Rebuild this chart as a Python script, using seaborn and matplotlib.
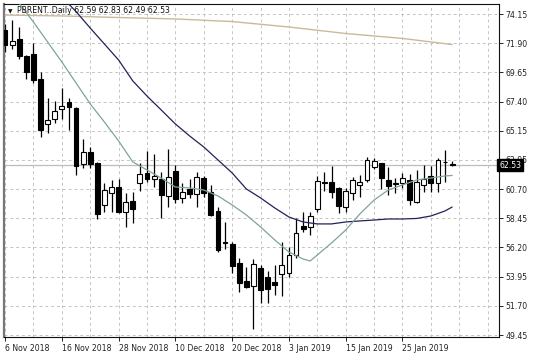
import numpy as np
import matplotlib
matplotlib.use("Agg")
import matplotlib.pyplot as plt
import matplotlib.transforms as mtransforms
from matplotlib.ticker import FixedLocator
import seaborn as sns

# ---------------- data ----------------
title_text = "PBRENT..Daily 62.59 62.83 62.49 62.53"
last_price = 62.53

opens = [72.92, 71.77, 72.23, 70.92, 71.07, 69.15, 65.69, 66.07, 66.84, 67.38,
         66.92, 62.61, 63.53, 62.69, 59.46, 60.38, 60.84, 58.92, 59.77, 61.15,
         61.92, 61.46, 61.46, 60.15, 62.07, 60.00, 60.69, 60.30, 61.53, 60.46,
         59.00, 56.61, 56.46, 55.00, 53.61, 53.23, 54.61, 53.92, 53.53, 54.15,
         54.23, 55.61, 57.84, 57.77, 59.15, 61.23, 61.23, 60.77, 59.30, 60.38,
         61.00, 61.38, 62.38, 62.69, 61.38, 61.07, 61.15, 61.38, 59.69, 61.00,
         61.69, 61.15, 62.75, 62.59]
highs = [73.38, 73.69, 73.15, 71.00, 71.92, 69.69, 67.69, 67.46, 68.46, 67.69,
         67.00, 64.53, 63.92, 62.77, 61.15, 61.38, 61.46, 60.38, 60.46, 62.69,
         63.61, 63.38, 62.00, 63.77, 62.53, 61.15, 61.46, 62.00, 61.69, 61.00,
         59.30, 58.15, 56.61, 55.38, 54.69, 55.30, 54.84, 54.38, 54.84, 56.61,
         56.23, 58.46, 58.92, 58.92, 61.69, 62.00, 62.46, 60.84, 60.77, 61.61,
         61.77, 63.15, 63.07, 62.69, 62.38, 61.53, 61.92, 61.84, 62.15, 62.53,
         62.46, 63.07, 63.69, 62.83]
lows = [71.23, 71.46, 70.69, 69.15, 68.84, 64.69, 65.00, 65.77, 66.07, 65.23,
        61.77, 62.30, 62.30, 58.38, 58.92, 58.92, 58.84, 57.77, 58.07, 60.54,
        61.23, 60.84, 58.46, 59.30, 59.61, 59.61, 60.00, 59.30, 60.07, 58.61,
        55.84, 56.07, 54.23, 52.77, 53.07, 49.92, 51.92, 51.92, 52.53, 52.46,
        53.92, 55.38, 57.38, 57.15, 58.92, 60.54, 60.00, 58.84, 58.92, 59.84,
        60.07, 61.23, 62.23, 60.69, 60.23, 60.38, 60.77, 59.46, 59.61, 60.46,
        60.46, 60.46, 61.23, 62.49]
closes = [71.77, 72.07, 70.92, 69.69, 69.07, 65.23, 66.00, 66.69, 67.07, 67.00,
          62.46, 63.53, 62.61, 58.77, 60.61, 60.84, 58.92, 59.69, 59.15, 61.84,
          61.46, 61.69, 60.23, 61.61, 59.92, 60.46, 60.30, 61.61, 60.38, 58.69,
          56.00, 56.53, 54.77, 53.46, 53.15, 54.92, 52.92, 53.00, 53.30, 54.84,
          55.61, 57.30, 57.61, 58.61, 61.30, 61.15, 60.46, 59.38, 60.54, 61.38,
          61.23, 62.92, 62.84, 61.53, 60.92, 61.15, 61.53, 59.84, 61.23, 61.46,
          61.15, 62.92, 62.79, 62.53]

date_labels = ["6 Nov 2018", "16 Nov 2018", "28 Nov 2018", "10 Dec 2018",
               "20 Dec 2018", "3 Jan 2019", "15 Jan 2019", "25 Jan 2019"]
bars_per_label = 8
price_labels = ["49.45", "51.70", "53.95", "56.20", "58.45", "60.70",
                "62.95", "65.15", "67.40", "69.65", "71.90", "74.15"]

# moving averages (bar index, value)
ma_slow_idx = [0, 8, 16, 24, 32, 40, 48, 56, 63]
ma_slow_val = [74.07, 74.00, 73.88, 73.77, 73.57, 73.15, 72.65, 72.27, 71.80]

ma_mid_idx = [8, 10, 12, 14, 16, 18, 20, 22, 24, 26, 28, 30, 32, 34, 36, 38,
              40, 42, 44, 46, 48, 50, 52, 54, 56, 58, 60, 62, 63]
ma_mid_val = [75.46, 74.34, 73.07, 71.84, 70.61, 69.00, 67.84, 66.77, 65.69,
              64.77, 63.92, 62.92, 61.92, 60.69, 60.00, 59.23, 58.53, 58.15,
              58.00, 58.00, 58.15, 58.23, 58.30, 58.38, 58.38, 58.42, 58.61,
              59.00, 59.30]

ma_fast_idx = [1, 4, 8, 12, 14, 16, 18, 20, 22, 24, 26, 28, 30, 32, 34, 36, 38,
               40, 42, 43, 44, 46, 48, 50, 52, 54, 56, 58, 60, 62, 63]
ma_fast_val = [75.69, 73.53, 70.46, 67.23, 65.84, 64.38, 62.77, 62.15, 61.53,
               60.84, 60.77, 60.61, 60.15, 59.46, 58.69, 57.77, 56.77, 55.84,
               55.30, 55.15, 55.61, 56.53, 57.53, 58.77, 59.84, 60.61, 61.00,
               61.38, 61.53, 61.69, 61.73]

# ---------------- style ----------------
sns.set_theme(style="white")
plt.rcParams['font.family'] = ['DejaVu Sans']
plt.rcParams['axes.linewidth'] = 0.8

W, H = 536, 358
fig = plt.figure(figsize=(W / 100, H / 100), dpi=100)
fig.patch.set_facecolor("white")
ax = fig.add_axes([4 / W, 21 / H, 495 / W, 333 / H])
ax.set_facecolor("white")

n = len(opens)
x = np.arange(n)
o = np.array(opens); h = np.array(highs); l = np.array(lows); c = np.array(closes)

ax.set_xlim(-0.15, 69.6)
ax.set_ylim(49.30, 74.92)

# grid
ytick_pos = np.linspace(float(price_labels[0]), float(price_labels[-1]), len(price_labels))
ax.yaxis.set_major_locator(FixedLocator(ytick_pos))
ax.set_yticklabels(price_labels)
xmaj = np.arange(len(date_labels)) * bars_per_label
ax.xaxis.set_major_locator(FixedLocator(xmaj))
ax.xaxis.set_minor_locator(FixedLocator(np.arange(0, 70, bars_per_label // 2)))
ax.set_xticklabels(date_labels)
ax.grid(True, which="both", axis="x", color="#c4c4c4", linestyle=(0, (3, 3)), linewidth=0.7)
ax.grid(True, which="major", axis="y", color="#c4c4c4", linestyle=(0, (3, 3)), linewidth=0.7)
ax.set_axisbelow(True)

# current price line
ax.axhline(last_price, color="#bdbdbd", lw=0.9, zorder=1)

# candles
ax.vlines(x, l, h, color="black", lw=0.9, zorder=2)
up = c >= o
body_bottom = np.minimum(o, c)
body_h = np.abs(c - o)
ax.bar(x[up], body_h[up], bottom=body_bottom[up], width=0.68,
       facecolor="white", edgecolor="black", linewidth=0.8, zorder=3)
ax.bar(x[~up], body_h[~up], bottom=body_bottom[~up], width=0.68,
       facecolor="black", edgecolor="black", linewidth=0.8, zorder=3)

# moving averages
sns.lineplot(x=ma_slow_idx, y=ma_slow_val, ax=ax, color="#cbb99c", lw=1.0, zorder=4)
sns.lineplot(x=ma_mid_idx, y=ma_mid_val, ax=ax, color="#22225a", lw=0.9, zorder=4)
sns.lineplot(x=ma_fast_idx, y=ma_fast_val, ax=ax, color="#7fa597", lw=0.9, zorder=4)
ax.set_xlabel("")
ax.set_ylabel("")

# axes / ticks
ax.yaxis.tick_right()
ax.tick_params(axis="y", which="major", direction="out", length=3, width=0.7,
               colors="#222222", labelsize=5.6, pad=1.5, right=True, left=False)
ax.tick_params(axis="x", which="major", direction="out", length=3, width=0.7,
               colors="#222222", labelsize=5.6, pad=2, bottom=True)
ax.tick_params(axis="x", which="minor", length=0)
for lab in ax.get_xticklabels():
    lab.set_horizontalalignment("left")
for side in ["top", "right", "bottom"]:
    ax.spines[side].set_color("#111111")
    ax.spines[side].set_linewidth(0.8)
ax.spines["left"].set_color("#777777")
ax.spines["left"].set_linewidth(1.6)

# last-price box
trans = mtransforms.blended_transform_factory(ax.transAxes, ax.transData)
ax.text(1.0, last_price, "62.53", transform=trans, ha="left", va="center",
        color="white", fontsize=5.6, clip_on=False, zorder=10,
        bbox=dict(boxstyle="square,pad=0.25", facecolor="black", edgecolor="black"))

# title
fig.text(8 / W, 1 - 13 / H, "\u25bc", fontsize=4.2, color="#111111", va="baseline")
fig.text(17 / W, 1 - 13 / H, title_text, fontsize=5.6, color="#111111", va="baseline")

fig.savefig("out.png", dpi=100)
